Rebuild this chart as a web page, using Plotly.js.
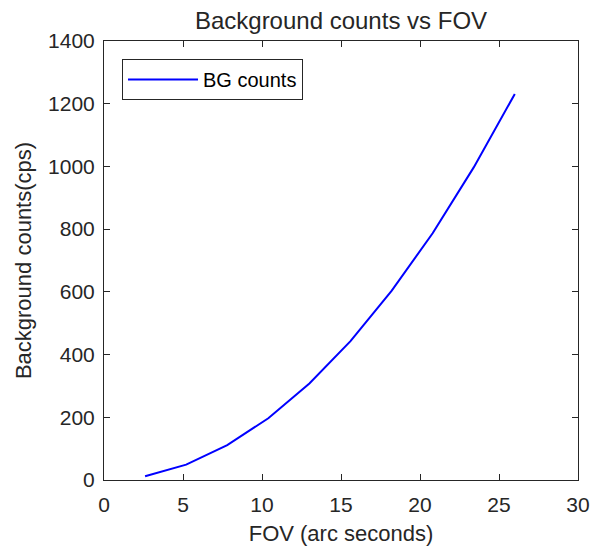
<!DOCTYPE html>
<html>
<head>
<meta charset="utf-8">
<script src="https://cdn.plot.ly/plotly-3.0.1.min.js"></script>
<style>html,body{margin:0;padding:0;background:#fff;}</style>
</head>
<body>
<div id="chart" style="width:594px;height:551px;"></div>
<script>
const fov = [2.6, 5.2, 7.8, 10.4, 13, 15.6, 18.2, 20.8, 23.4, 26];
const bgCounts = [12, 49, 111, 197, 308, 443, 603, 787, 997, 1231];
const xTicks = [0, 5, 10, 15, 20, 25, 30];
const yTicks = [0, 200, 400, 600, 800, 1000, 1200, 1400];

const axisCommon = {
  showgrid: false, zeroline: false, showline: true, linecolor: '#262626', linewidth: 1,
  mirror: 'ticks', ticks: 'inside', ticklen: 6, tickcolor: '#262626', tickwidth: 1,
  tickfont: {family: 'Liberation Sans, Arial, sans-serif', size: 21, color: '#262626'}
};

const trace = {
  x: fov, y: bgCounts, type: 'scatter', mode: 'lines', name: 'BG counts',
  line: {color: '#0000ff', width: 2}
};

const layout = {
  width: 594, height: 551,
  margin: {l: 104, r: 16, t: 41, b: 71},
  paper_bgcolor: '#fff', plot_bgcolor: '#fff',
  font: {family: 'Liberation Sans, Arial, sans-serif', color: '#262626'},
  title: {text: 'Background counts vs FOV', font: {size: 24, color: '#262626'}, x: 0.5, xref: 'paper', y: 0.962, yanchor: 'middle'},
  xaxis: Object.assign({}, axisCommon, {
    range: [0, 30], tickvals: xTicks, ticktext: xTicks.map(String), ticklabelstandoff: 6,
    title: {text: 'FOV (arc seconds)', font: {size: 22, color: '#262626'}, standoff: 10}
  }),
  yaxis: Object.assign({}, axisCommon, {
    range: [0, 1400], tickvals: yTicks, ticktext: yTicks.map(String), ticklabelstandoff: 4,
    title: {text: 'Background counts(cps)', font: {size: 22, color: '#262626'}, standoff: 10}
  }),
  showlegend: true,
  legend: {
    x: 0.038, y: 0.959, xanchor: 'left', yanchor: 'top',
    bordercolor: '#262626', borderwidth: 1, bgcolor: '#fff',
    font: {size: 20, color: '#000'}, itemwidth: 70
  }
};

Plotly.newPlot('chart', [trace], layout, {displayModeBar: false, staticPlot: true});
</script>
</body>
</html>
